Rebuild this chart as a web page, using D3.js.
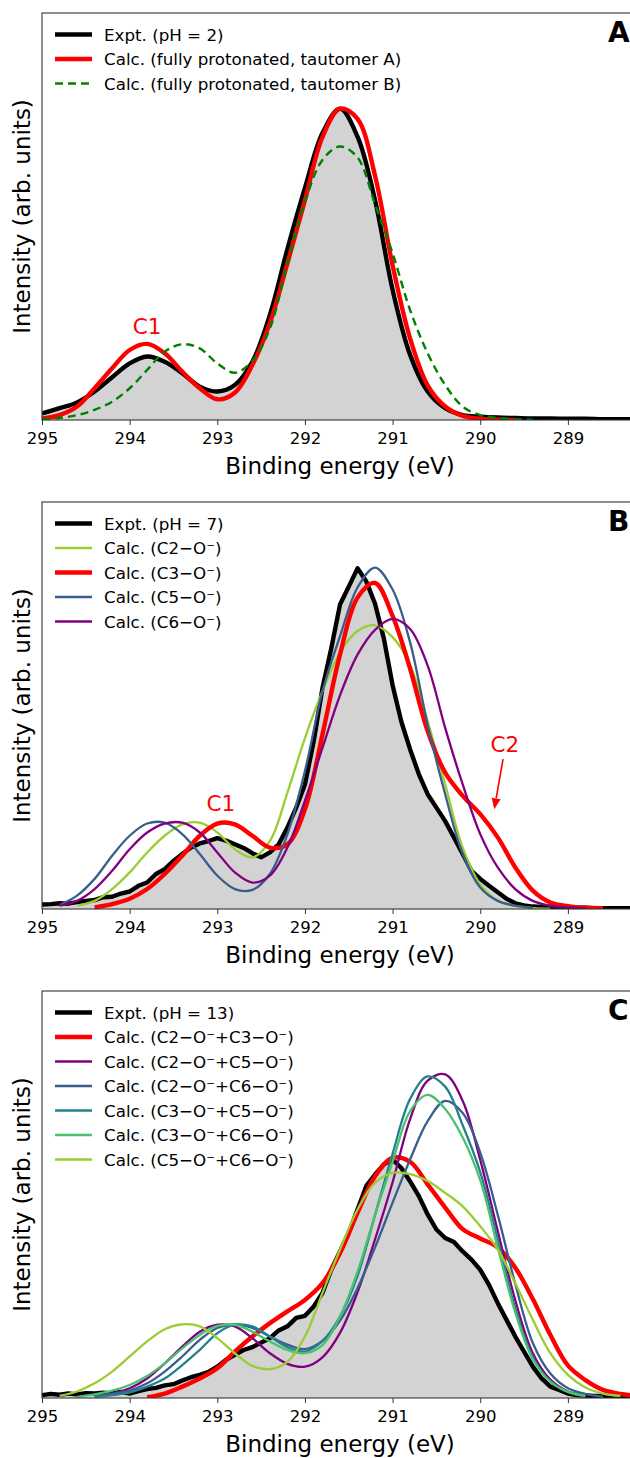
<!DOCTYPE html>
<html>
<head>
<meta charset="utf-8">
<script src="https://cdn.jsdelivr.net/npm/d3@7"></script>
<style>
  body { margin: 0; background: #fff; }
  svg text { font-family: "DejaVu Sans", sans-serif; }
</style>
</head>
<body>
<div id="chart"></div>
<script>
// energy sampling grids (eV), high to low
const eCoarse = d3.range(35).map(i => +(295 - i * 0.2).toFixed(1))
const eFine = d3.range(69).map(i => +(295 - i * 0.1).toFixed(1))
const xTicks = [295, 294, 293, 292, 291, 290, 289]

// ---- panel A (pH 2), coarse grid
const exptA = [.016,.029,.043,.07,.105,.139,.156,.143,.115,.082,.07,.086,.143,.258,.42,.57,.705,.765,.696,.54,.32,.16,.07,.029,.012,.008,.006,.005,.004,.004,.003,.003,.002,.002,.002]
const tautA = [.004,.012,.033,.078,.127,.172,.187,.164,.119,.078,.051,.067,.135,.238,.385,.54,.695,.765,.74,.6,.38,.2,.085,.033,.01,.003,.001,0,null,null,null,null,null,null,null]
const tautB = [.002,.005,.012,.025,.045,.078,.123,.168,.186,.176,.139,.116,.145,.225,.385,.536,.639,.672,.645,.53,.41,.27,.164,.086,.033,.012,.005,.002,.001,null,null,null,null,null,null]

// ---- panel B (pH 7)
const exptB = [.011,.012,.014,.013,.017,.02,.022,.029,.03,.038,
  .043,.057,.065,.086,.098,.118,.135,.151,.161,.167,
  .174,.168,.159,.15,.137,.127,.139,.159,.2,.249,
  .306,.412,.543,.64,.748,.792,.837,.805,.75,.665,
  .55,.46,.392,.331,.282,.249,.216,.176,.135,.094,
  .074,.057,.041,.025,.014,.009,.006,.005,.004,.004,
  .003,.003,.003,.002,.002,.002,.002,.002,.002]
const c2B = [null,null,.008,.02,.049,.09,.139,.18,.208,.212,.188,.147,.127,.167,.286,.42,.535,.63,.683,.697,.668,.6,.462,.306,.151,.061,.02,.007,.002,.001,null,null,null,null,null]
const c3B = [null,null,null,.004,.012,.025,.049,.086,.131,.18,.21,.208,.18,.151,.159,.245,.429,.625,.765,.801,.72,.59,.437,.335,.278,.233,.176,.102,.045,.016,.007,.003,.002,null,null]
const c5B = [null,.01,.033,.074,.131,.18,.21,.212,.184,.135,.082,.049,.047,.086,.184,.339,.535,.67,.79,.839,.785,.655,.453,.282,.135,.053,.02,.008,.003,null,null,null,null,null,null]
const c6B = [null,.008,.02,.049,.094,.147,.188,.21,.212,.188,.139,.09,.065,.082,.151,.266,.396,.525,.625,.686,.713,.688,.598,.445,.306,.184,.102,.049,.02,.008,.004,.002,null,null,null]

// ---- panel C (pH 13)
const exptC = [.007,.01,.008,.011,.009,.012,.011,.013,.011,.015,
  .011,.017,.022,.025,.031,.034,.043,.051,.057,.064,
  .077,.094,.106,.118,.125,.136,.147,.166,.176,.197,
  .202,.225,.258,.315,.36,.406,.463,.521,.549,.574,
  .586,.565,.532,.496,.451,.414,.393,.383,.36,.34,
  .315,.278,.233,.192,.151,.114,.077,.048,.028,.02,
  .011,.007,.006,.005,.005,.004,.004,.004,.004]
const c23C = [null,null,null,null,null,null,.002,.011,.028,.048,.073,.114,.151,.184,.213,.241,.282,.356,.455,.545,.59,.58,.525,.468,.415,.392,.37,.32,.243,.155,.08,.044,.02,.01,.005]
const c25C = [null,null,null,.005,.011,.024,.048,.085,.126,.163,.18,.176,.147,.11,.084,.077,.1,.16,.26,.39,.53,.685,.78,.795,.73,.585,.41,.24,.11,.045,.016,.005,null,null,null]
const c26C = [null,null,null,.005,.01,.018,.036,.065,.102,.143,.172,.181,.172,.151,.131,.12,.14,.19,.27,.37,.48,.586,.68,.73,.7,.603,.45,.28,.135,.06,.024,.01,.003,null,null]
const c35C = [null,null,null,.003,.007,.014,.028,.048,.081,.118,.159,.18,.176,.151,.125,.114,.14,.2,.3,.45,.6,.735,.79,.765,.67,.555,.39,.22,.1,.04,.015,.005,null,null,null]
const c36C = [null,null,.003,.009,.018,.032,.054,.085,.122,.155,.177,.18,.163,.139,.118,.11,.13,.2,.31,.45,.58,.705,.745,.71,.64,.535,.37,.21,.095,.04,.015,.005,null,null,null]
const c56C = [null,.005,.016,.036,.065,.102,.139,.169,.181,.176,.147,.11,.079,.071,.089,.151,.258,.365,.463,.529,.553,.55,.533,.504,.471,.422,.365,.282,.192,.11,.057,.026,.011,.005,null]

// annotations [panel, text, energy, intensity]
const labels = [[0, "C1", 293.8, .211], [1, "C1", 292.96, .24], [1, "C2", 289.72, .385]]
const arrowC2 = [[289.74, .368], [289.84, .245]]

const RED = "#ff0000", LIME = "#9acd32", BLUE = "#3a5e8c", PURPLE = "#800080", TEAL = "#23828e", GREEN = "#4ac16d"
const smooth = d3.curveCatmullRom.alpha(0.5)

const panels = [
  { letter: "A", series: [
    { label: "Expt. (pH = 2)", grid: eCoarse, v: exptA, color: "#000", w: 4.4, curve: smooth, expt: true },
    { label: "Calc. (fully protonated, tautomer A)", grid: eCoarse, v: tautA, color: RED, w: 4.4 },
    { label: "Calc. (fully protonated, tautomer B)", grid: eCoarse, v: tautB, color: "#008000", w: 2.4, dash: "8,5" } ] },
  { letter: "B", series: [
    { label: "Expt. (pH = 7)", grid: eFine, v: exptB, color: "#000", w: 4.4, curve: d3.curveLinear, expt: true },
    { label: "Calc. (C2−O⁻)", grid: eCoarse, v: c2B, color: LIME, w: 2.3 },
    { label: "Calc. (C3−O⁻)", grid: eCoarse, v: c3B, color: RED, w: 4.4 },
    { label: "Calc. (C5−O⁻)", grid: eCoarse, v: c5B, color: BLUE, w: 2.3 },
    { label: "Calc. (C6−O⁻)", grid: eCoarse, v: c6B, color: PURPLE, w: 2.3 } ] },
  { letter: "C", series: [
    { label: "Expt. (pH = 13)", grid: eFine, v: exptC, color: "#000", w: 4.4, curve: d3.curveLinear, expt: true },
    { label: "Calc. (C2−O⁻+C3−O⁻)", grid: eCoarse, v: c23C, color: RED, w: 4.4 },
    { label: "Calc. (C2−O⁻+C5−O⁻)", grid: eCoarse, v: c25C, color: PURPLE, w: 2.3 },
    { label: "Calc. (C2−O⁻+C6−O⁻)", grid: eCoarse, v: c26C, color: BLUE, w: 2.3 },
    { label: "Calc. (C3−O⁻+C5−O⁻)", grid: eCoarse, v: c35C, color: TEAL, w: 2.3 },
    { label: "Calc. (C3−O⁻+C6−O⁻)", grid: eCoarse, v: c36C, color: GREEN, w: 2.3 },
    { label: "Calc. (C5−O⁻+C6−O⁻)", grid: eCoarse, v: c56C, color: LIME, w: 2.3 } ] }
]

const W = 630, H = 1458
const left = 42, right = 638
const tops = [13, 502, 991], ph = 407

const x = d3.scaleLinear().domain([295, 288.2]).range([left, right])

const svg = d3.select("#chart").append("svg")
  .attr("width", W).attr("height", H)

panels.forEach((p, i) => {
  const top = tops[i], bottom = top + ph
  const y = d3.scaleLinear().domain([0, 1]).range([bottom, top])
  const g = svg.append("g")

  g.append("clipPath").attr("id", "clip" + i)
    .append("rect").attr("x", left).attr("y", top).attr("width", right - left).attr("height", ph)
  const plot = g.append("g").attr("clip-path", `url(#clip${i})`)

  // grey fill under the measured spectrum
  p.series.filter(s => s.expt).forEach(s => {
    const pts = s.grid.map((e, k) => [e, s.v[k]])
    plot.append("path").datum(pts)
      .attr("d", d3.area().x(d => x(d[0])).y0(bottom).y1(d => y(d[1])).curve(s.curve))
      .attr("fill", "#d3d3d3")
  })
  p.series.forEach(s => {
    const pts = s.grid.map((e, k) => [e, s.v[k]])
    plot.append("path").datum(pts)
      .attr("d", d3.line().defined(d => d[1] != null).x(d => x(d[0])).y(d => y(d[1])).curve(s.curve || smooth))
      .attr("fill", "none")
      .attr("stroke", s.color)
      .attr("stroke-width", s.w)
      .attr("stroke-dasharray", s.dash || null)
      .attr("stroke-linejoin", "round")
  })

  // frame
  g.append("rect").attr("x", left).attr("y", top).attr("width", right - left).attr("height", ph)
    .attr("fill", "none").attr("stroke", "#333").attr("stroke-width", 1.1)

  // x axis
  const ax = g.append("g").attr("transform", `translate(0,${bottom})`)
    .call(d3.axisBottom(x).tickValues(xTicks).tickSize(5).tickPadding(7).tickFormat(d3.format("d")))
  ax.select(".domain").remove()
  ax.selectAll("line").attr("stroke", "#333")
  ax.selectAll("text").attr("font-size", 16.5).attr("fill", "#000")
    .style("font-family", "DejaVu Sans, sans-serif")

  g.append("text").attr("x", 340).attr("y", bottom + 54)
    .attr("text-anchor", "middle").attr("font-size", 23).text("Binding energy (eV)")

  g.append("text").attr("transform", `translate(30,${(top + bottom) / 2}) rotate(-90)`)
    .attr("text-anchor", "middle").attr("font-size", 23).text("Intensity (arb. units)")

  // panel letter
  g.append("text").attr("x", 608).attr("y", top + 29)
    .attr("font-size", 28).attr("font-weight", "bold").text(p.letter)

  // legend
  const leg = g.append("g")
  p.series.forEach((s, k) => {
    const ry = top + 21.5 + k * 24.5
    leg.append("line").attr("x1", 55).attr("x2", 92).attr("y1", ry).attr("y2", ry)
      .attr("stroke", s.color).attr("stroke-width", s.w).attr("stroke-dasharray", s.dash || null)
    leg.append("text").attr("x", 104).attr("y", ry + 6).attr("font-size", 16.7).text(s.label)
  })

  // annotations
  labels.filter(l => l[0] === i).forEach(l => {
    g.append("text").attr("x", x(l[2])).attr("y", y(l[3]))
      .attr("text-anchor", "middle").attr("font-size", 21.5).attr("fill", RED).text(l[1])
  })
  if (i === 1) {
    const [x0, y0] = [x(arrowC2[0][0]), y(arrowC2[0][1])]
    const [x1, y1] = [x(arrowC2[1][0]), y(arrowC2[1][1])]
    const ang = Math.atan2(y1 - y0, x1 - x0), hl = 11, hw = 4.5
    const bx = x1 - hl * Math.cos(ang), by = y1 - hl * Math.sin(ang)
    g.append("line").attr("x1", x0).attr("y1", y0).attr("x2", bx).attr("y2", by)
      .attr("stroke", RED).attr("stroke-width", 1.6)
    g.append("path")
      .attr("d", `M${x1},${y1}L${bx - hw * Math.sin(ang)},${by + hw * Math.cos(ang)}L${bx + hw * Math.sin(ang)},${by - hw * Math.cos(ang)}Z`)
      .attr("fill", RED)
  }
})
</script>
</body>
</html>
